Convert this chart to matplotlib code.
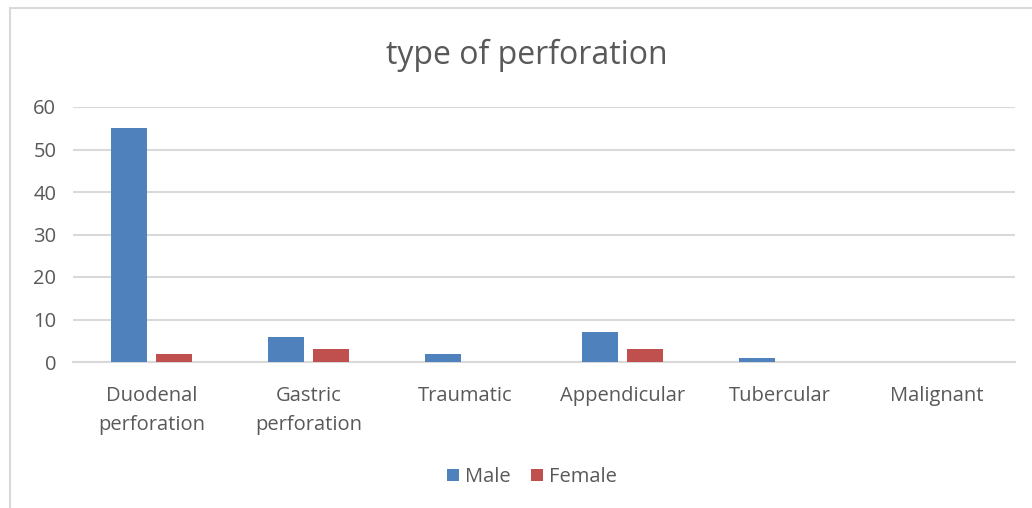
import numpy as np
import matplotlib.pyplot as plt
from matplotlib.patches import Rectangle

categories = ['Duodenal\nperforation', 'Gastric\nperforation', 'Traumatic',
              'Appendicular', 'Tubercular', 'Malignant']
male = [55, 6, 2, 7, 1, 0]
female = [2, 3, 0, 3, 0, 0]

plt.rcParams['font.family'] = ['Open Sans', 'DejaVu Sans']
text_color = '#595959'

fig = plt.figure(figsize=(10.32, 5.08), dpi=100)
# chart area border
fig.patches.append(Rectangle((10 / 1032, -0.01), 1.1, 1 - 8 / 508 + 0.01,
                             transform=fig.transFigure, fill=False,
                             edgecolor='#D9D9D9', linewidth=1.5))

ax = fig.add_axes([73 / 1032, 1 - 362 / 508, (1015 - 73) / 1032, (362 - 107) / 508])

x = np.arange(len(categories))
width = 0.23
ax.bar(x - 0.145, male, width, color='#4F81BD', label='Male', zorder=3)
ax.bar(x + 0.145, female, width, color='#C0504D', label='Female', zorder=3)

ax.set_xlim(-0.5, len(categories) - 0.5)
ax.set_ylim(0, 60)
ax.set_yticks(range(0, 61, 10))
ax.yaxis.grid(True, color='#D9D9D9', linewidth=1.5, zorder=0)
ax.set_axisbelow(True)
for s in ['top', 'right', 'left']:
    ax.spines[s].set_visible(False)
ax.spines['bottom'].set_color('#D9D9D9')
ax.spines['bottom'].set_linewidth(1.5)

ax.set_xticks(x)
ax.set_xticklabels(categories, linespacing=1.65)
ax.tick_params(axis='both', length=0, labelsize=14.5, colors=text_color)
ax.tick_params(axis='x', pad=17)
ax.tick_params(axis='y', pad=12)

fig.text(527 / 1032, 1 - 55 / 508, 'type of perforation', ha='center', va='center',
         fontsize=23, color=text_color)

fig.legend(loc='center', bbox_to_anchor=(532 / 1032, 1 - 477 / 508), ncol=2,
           frameon=False, fontsize=14.5, labelcolor=text_color,
           handlelength=0.6, handleheight=0.6, handletextpad=0.3, columnspacing=1.0)

fig.savefig('out.png', dpi=100)
